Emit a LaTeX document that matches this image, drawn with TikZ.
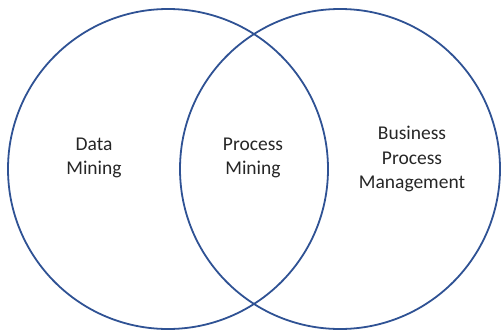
\documentclass[tikz,border=0pt]{standalone}
\usepackage{fontspec}
\setmainfont{Carlito}
\definecolor{venn}{RGB}{47,82,148}
\begin{document}
\begin{tikzpicture}[x=1pt,y=1pt]
      \useasboundingbox (0,0) rectangle (502,330);
      \begin{scope}[venn, line width=1.8pt]
        \draw (168,161) circle (160);
        \draw (340,161) circle (160);
      \end{scope}
      \begin{scope}[font=\fontsize{19.5}{24.5}\selectfont, align=center, text=black!85]
        \draw
          (94,172) node (dm){Data\\Mining}
          (253,172) node (pm){Process\\Mining}
          (412,171) node (bpm){Business\\Process\\Management};
      \end{scope}
    \end{tikzpicture}
\end{document}
